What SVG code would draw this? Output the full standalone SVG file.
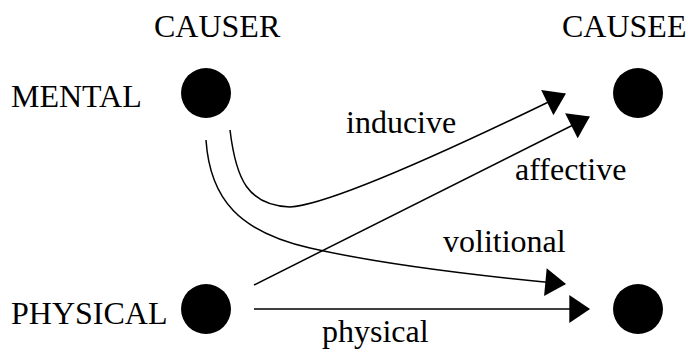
<svg xmlns="http://www.w3.org/2000/svg" width="688" height="356" viewBox="0 0 688 356">
  <style>
    text { font-family: "Liberation Serif", "Times New Roman", serif; font-size: 32px; fill: #000; }
    .node { fill: #000; }
    .conn { fill: none; stroke: #000; stroke-width: 1.5; }
  </style>
  <defs>
    <marker id="arrow" markerUnits="userSpaceOnUse" markerWidth="22" markerHeight="28" refX="19" refY="13.5" orient="auto" viewBox="0 0 20 27">
      <path d="M0,0 L20,13.5 L0,27 Z" fill="#000"/>
    </marker>
  </defs>
  <rect width="688" height="356" fill="#fff"/>

  <g id="headers">
    <text x="154" y="37">CAUSER</text>
    <text x="562" y="37">CAUSEE</text>
  </g>

  <g id="causer-mental">
    <circle class="node" cx="206" cy="93" r="25"/>
    <text x="11" y="107">MENTAL</text>
  </g>
  <g id="causer-physical">
    <circle class="node" cx="206" cy="309" r="25"/>
    <text x="11" y="324">PHYSICAL</text>
  </g>
  <g id="causee-mental">
    <circle class="node" cx="638" cy="93" r="25"/>
  </g>
  <g id="causee-physical">
    <circle class="node" cx="638" cy="309" r="25"/>
  </g>

  <g id="connectors">
    <path class="conn" d="M230,130 C236,180 248,205 290,207 C330,205 450,150 565,94" marker-end="url(#arrow)"/>
    <path class="conn" d="M254,285 L589,117" marker-end="url(#arrow)"/>
    <path class="conn" d="M206,140 C210,200 240,232 310,248 C380,264 480,276 565,284" marker-end="url(#arrow)"/>
    <path class="conn" d="M254,309 L589,309" marker-end="url(#arrow)"/>
    <text x="346" y="133">inducive</text>
    <text x="515" y="180">affective</text>
    <text x="443" y="252">volitional</text>
    <text x="322" y="342">physical</text>
  </g>
</svg>
